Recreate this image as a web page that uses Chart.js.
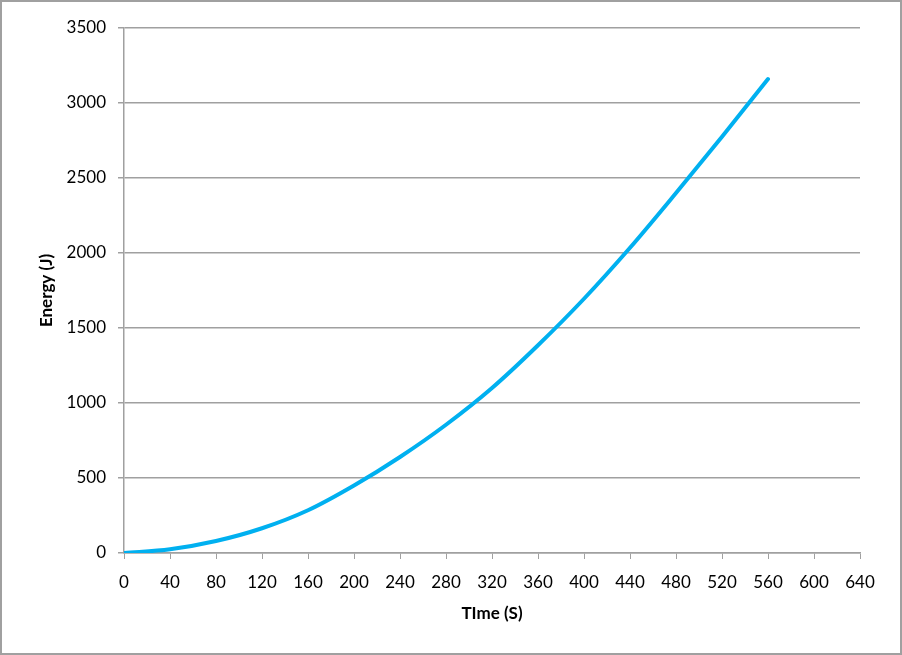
<!DOCTYPE html>
<html>
<head>
<meta charset="utf-8">
<script src="https://cdn.jsdelivr.net/npm/chart.js@4"></script>
<style>
	html, body { margin: 0; padding: 0; background: #fff; }
	#wrap { width: 902px; height: 655px; box-sizing: border-box; border: 2px solid #a0a0a0; position: relative; }
	canvas { display: block; }
</style>
</head>
<body>
<div id="wrap"><canvas id="chart" width="898" height="651"></canvas></div>
<script>
const timeValues = [0, 40, 80, 120, 160, 200, 240, 280, 320, 360, 400, 440, 480, 520, 560];
const energyValues = [0, 25, 80, 165, 285, 450, 640, 855, 1100, 1385, 1695, 2035, 2400, 2775, 3160];

const xTitle = 'TIme (S)';
const yTitle = 'Energy (J)';

const gray = '#a0a0a0';
const font = { family: 'Lato, "Open Sans", sans-serif', size: 17 };

const element = document.getElementById('chart');

new Chart(element, {
	type: 'line',
	data: {
		datasets: [
			{
				data: timeValues.map((x, i) => ({ x, y: energyValues[i] })),
				fill: false,
				borderColor: '#00b0f0',
				borderWidth: 4,
				borderCapStyle: 'round',
				cubicInterpolationMode: 'monotone',
				radius: 0
			}
		]
	},
	options: {
		responsive: false,
		animation: false,
		layout: {
			padding: { left: 34, top: 26, right: 40, bottom: 29 }
		},
		plugins: {
			legend: { display: false },
			tooltip: { enabled: false }
		},
		scales: {
			x: {
				type: 'linear',
				min: 0,
				max: 640,
				ticks: { stepSize: 40, color: '#000', font, padding: 13, maxRotation: 0, callback: (v) => String(v) },
				grid: { drawOnChartArea: false, color: gray, tickLength: 6 },
				border: { color: gray, width: 1.5 },
				title: { display: true, text: xTitle, color: '#000', font: { ...font, weight: 'bold' }, padding: 0 },
				afterFit: (s) => { s.height = 71; }
			},
			y: {
				min: 0,
				max: 3500,
				ticks: { stepSize: 500, color: '#000', font, padding: 12, callback: (v) => String(v) },
				grid: { color: gray, lineWidth: 1.5, tickLength: 6 },
				border: { color: gray, width: 1.5 },
				title: { display: true, text: yTitle, color: '#000', font: { ...font, weight: 'bold' }, padding: 0 },
				afterFit: (s) => { s.width = 88; }
			}
		}
	}
});
</script>
</body>
</html>
